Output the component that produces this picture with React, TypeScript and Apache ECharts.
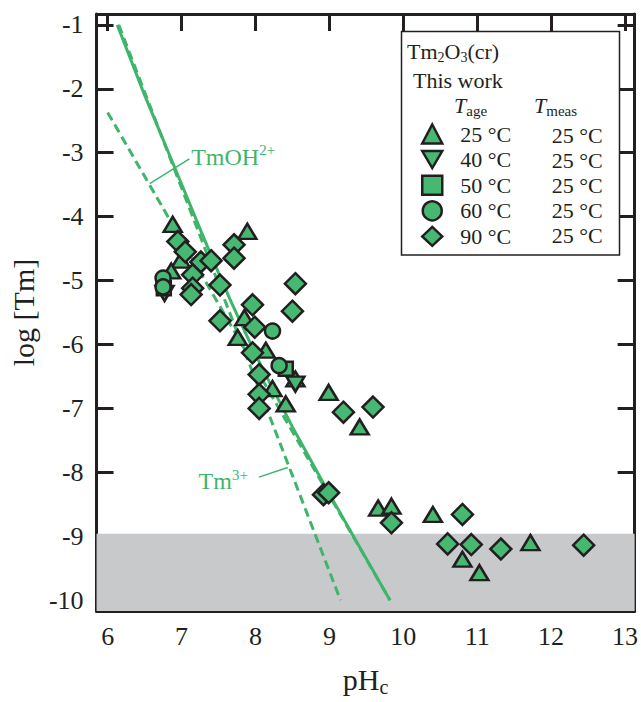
import React, { useEffect, useRef } from "react";
import * as echarts from "echarts";

// ---------- data ----------
const xTicks = [6, 7, 8, 9, 10, 11, 12, 13];
const yTicks = [-1, -2, -3, -4, -5, -6, -7, -8, -9, -10];
const xRange = [5.85, 13.13];
const yRange = [-10.17, -0.83];
const detectionLimit = -8.96;

const ageLabels = ["25 °C", "40 °C", "50 °C", "60 °C", "90 °C"];
const measLabels = ["25 °C", "25 °C", "25 °C", "25 °C", "25 °C"];

// [pHc, log[Tm]]
const age25 = [
  [6.88, -4.12], [7.89, -4.23], [6.99, -4.68], [6.86, -4.85], [7.85, -5.58],
  [7.76, -5.89], [8.14, -6.09], [8.54, -6.54], [8.23, -6.69], [8.41, -6.93],
  [8.99, -6.75], [9.41, -7.29], [9.66, -8.56], [9.84, -8.53], [10.4, -8.66],
  [11.72, -9.1], [10.8, -9.36], [11.03, -9.57],
];
const age40 = [[6.77, -5.2], [8.54, -6.62]];
const age50 = [[6.76, -5.12], [8.41, -6.38]];
const age60 = [[6.75, -4.96], [6.75, -5.1], [8.23, -5.79], [8.32, -6.33]];
const age90 = [
  [6.95, -4.39], [7.05, -4.55], [7.26, -4.71], [7.4, -4.69], [7.15, -4.91],
  [7.15, -5.12], [7.13, -5.22], [7.71, -4.44], [7.71, -4.65], [7.52, -5.07],
  [7.52, -5.63], [7.96, -5.38], [7.99, -5.73], [8.54, -5.05], [8.5, -5.48],
  [7.96, -6.13], [8.05, -6.47], [8.05, -6.78], [8.05, -7.0], [9.19, -7.06],
  [9.59, -6.98], [8.92, -8.35], [8.99, -8.32], [9.84, -8.79], [10.8, -8.66],
  [10.6, -9.12], [10.92, -9.13], [11.32, -9.2], [12.44, -9.14],
];

const totalLine = [
  [6.13, -1.0], [6.5, -2.1], [7.0, -3.49], [7.26, -4.22], [7.5, -4.88],
  [7.65, -5.28], [7.8, -5.66], [7.95, -6.03], [8.1, -6.39], [8.5, -7.29],
  [9.0, -8.34], [9.82, -10.0],
];
const tm3Line = [[6.15, -1.0], [9.15, -10.0]];
const tmOHLine = [[6.0, -2.37], [9.82, -10.0]];

const annotations = [
  { main: "TmOH", sup: "2+", at: [7.13, -3.19], leader: [[7.106, -3.096], [6.569, -3.484]] },
  { main: "Tm", sup: "3+", at: [7.23, -8.27], leader: [[8.047, -8.076], [8.437, -7.925]] },
];

// ---------- styles ----------
const FONT = "'Liberation Serif', 'Times New Roman', Times, serif";
const INK = "#231f20";
const GREEN = "#3fb56b";
const FILL = "#47b872";
const DOWN_TRIANGLE = "path://M0,0 L20,0 L10,17 Z";

const markerStyle = { color: FILL, borderColor: INK, borderWidth: 2.5, opacity: 1 };

export default function App() {
  const ref = useRef<HTMLDivElement>(null);

  useEffect(() => {
    document.body.style.margin = "0";
    if (!ref.current) return;
    const chart = echarts.init(ref.current, undefined, { renderer: "svg" });

    const axisLine = { show: true, onZero: false, lineStyle: { color: INK, width: 3 } };
    const axisTick = { show: true, inside: true, length: 17, lineStyle: { color: INK, width: 3 } };
    const fmtX = (v: number) => (xTicks.includes(v) ? String(v) : "");
    const fmtY = (v: number) => (yTicks.includes(v) ? String(v) : "");

    const lineBase = { type: "line", symbol: "none", showSymbol: false, silent: true, z: 2 };

    chart.setOption({
      animation: false,
      grid: { left: 95, right: 4, top: 14, bottom: 87 },
      xAxis: [
        {
          type: "value", min: xRange[0], max: xRange[1], minInterval: 1, maxInterval: 1,
          position: "bottom", axisLine, axisTick, splitLine: { show: false },
          axisLabel: { formatter: fmtX, margin: 12, color: INK, fontFamily: FONT, fontSize: 26 },
          name: "{m|pH}{s|c}", nameLocation: "middle", nameGap: 50,
          nameTextStyle: {
            rich: {
              m: { fontFamily: FONT, fontSize: 30, color: INK, lineHeight: 36 },
              s: { fontFamily: FONT, fontSize: 20, color: INK, lineHeight: 20, verticalAlign: "bottom" },
            },
          },
        },
        {
          type: "value", min: xRange[0], max: xRange[1], minInterval: 1, maxInterval: 1,
          position: "top", axisLine, axisTick, splitLine: { show: false }, axisLabel: { show: false },
        },
      ],
      yAxis: [
        {
          type: "value", min: yRange[0], max: yRange[1], minInterval: 1, maxInterval: 1,
          position: "left", axisLine, axisTick, splitLine: { show: false },
          axisLabel: { formatter: fmtY, margin: 13, color: INK, fontFamily: FONT, fontSize: 26 },
          name: "log [Tm]", nameLocation: "middle", nameGap: 52, nameRotate: 90,
          nameTextStyle: { fontFamily: FONT, fontSize: 30, color: INK },
        },
        {
          type: "value", min: yRange[0], max: yRange[1], minInterval: 1, maxInterval: 1,
          position: "right", axisLine, axisTick, splitLine: { show: false }, axisLabel: { show: false },
        },
      ],
      legend: {
        show: true, orient: "vertical", left: 421, top: 123, padding: 0,
        itemWidth: 20, itemHeight: 19, itemGap: 3.6, selectedMode: false,
        itemStyle: { borderWidth: 2.5, borderColor: INK, opacity: 1 },
        textStyle: { fontFamily: FONT, fontSize: 22, color: INK, lineHeight: 20, padding: [0, 0, 0, 13] },
        data: ageLabels,
        z: 10,
      },
      series: [
        {
          type: "line", data: [], symbol: "none", silent: true, z: 1,
          markArea: {
            silent: true, itemStyle: { color: "#c8c9cb" },
            data: [[{ yAxis: detectionLimit }, { yAxis: yRange[0] }]],
          },
        },
        { ...lineBase, data: tmOHLine, lineStyle: { color: GREEN, width: 3, type: [9, 5] } },
        { ...lineBase, data: tm3Line, lineStyle: { color: GREEN, width: 3, type: [9, 5] } },
        { ...lineBase, data: totalLine, lineStyle: { color: GREEN, width: 3 } },
        ...annotations.map((a) => ({
          ...lineBase, data: a.leader, lineStyle: { color: GREEN, width: 1.5 },
        })),
        { type: "scatter", name: ageLabels[0], data: age25, symbol: "triangle", symbolSize: [18, 15], itemStyle: markerStyle, z: 4 },
        { type: "scatter", name: ageLabels[1], data: age40, symbol: DOWN_TRIANGLE, symbolSize: [18, 15], itemStyle: markerStyle, z: 4 },
        { type: "scatter", name: ageLabels[2], data: age50, symbol: "rect", symbolSize: 14, itemStyle: markerStyle, z: 4 },
        { type: "scatter", name: ageLabels[3], data: age60, symbol: "circle", symbolSize: 15, itemStyle: markerStyle, z: 4 },
        { type: "scatter", name: ageLabels[4], data: age90, symbol: "diamond", symbolSize: 21, itemStyle: markerStyle, z: 5 },
      ],
    });

    // graphic overlay: legend box, titles, annotations
    const richMain = (size: number, lh: number) => ({ fontSize: size, fontFamily: FONT, fill: INK, lineHeight: lh });
    const graphics: any[] = [
      {
        type: "rect", z: 3, silent: true,
        shape: { x: 401.5, y: 31.5, width: 218, height: 223.5 },
        style: { fill: "#fff", stroke: INK, lineWidth: 1.5 },
      },
      {
        type: "text", z: 11, x: 407, y: 38.5,
        style: {
          text: "{a|Tm}{b|2}{a|O}{b|3}{a|(cr)}", fill: INK, verticalAlign: "top",
          rich: {
            a: richMain(22, 26),
            b: { fontSize: 14, fontFamily: FONT, fill: INK, lineHeight: 14, verticalAlign: "bottom" },
          },
        },
      },
      {
        type: "text", z: 11, x: 413, y: 80.5,
        style: { text: "This work", fontSize: 22, fontFamily: FONT, fill: INK, verticalAlign: "middle" },
      },
      {
        type: "text", z: 11, x: 454, y: 92.5,
        style: {
          text: "{t|T}{s|age}", fill: INK, verticalAlign: "top",
          rich: {
            t: { ...richMain(22, 26), fontStyle: "italic" },
            s: { fontSize: 15, fontFamily: FONT, fill: INK, lineHeight: 15, verticalAlign: "bottom" },
          },
        },
      },
      {
        type: "text", z: 11, x: 534, y: 92.5,
        style: {
          text: "{t|T}{s|meas}", fill: INK, verticalAlign: "top",
          rich: {
            t: { ...richMain(22, 26), fontStyle: "italic" },
            s: { fontSize: 15, fontFamily: FONT, fill: INK, lineHeight: 15, verticalAlign: "bottom" },
          },
        },
      },
      ...measLabels.map((t, i) => ({
        type: "text", z: 11, x: 551.7, y: 135 + i * 25.2,
        style: { text: t, fontSize: 22, fontFamily: FONT, fill: INK, verticalAlign: "middle" },
      })),
    ];
    annotations.forEach((a) => {
      const p = chart.convertToPixel({ xAxisIndex: 0, yAxisIndex: 0 }, a.at) as number[];
      graphics.push({
        type: "text", z: 11, x: p[0], y: p[1] - 22.2,
        style: {
          text: `{m|${a.main}}{s|${a.sup}}`, fill: GREEN, verticalAlign: "top",
          rich: {
            m: { fontSize: 24, fontFamily: FONT, fill: GREEN, lineHeight: 28 },
            s: { fontSize: 15, fontFamily: FONT, fill: GREEN, lineHeight: 22, verticalAlign: "top" },
          },
        },
      });
    });
    chart.setOption({ graphic: graphics });

    return () => chart.dispose();
  }, []);

  return <div ref={ref} style={{ width: 641, height: 702 }} />;
}
